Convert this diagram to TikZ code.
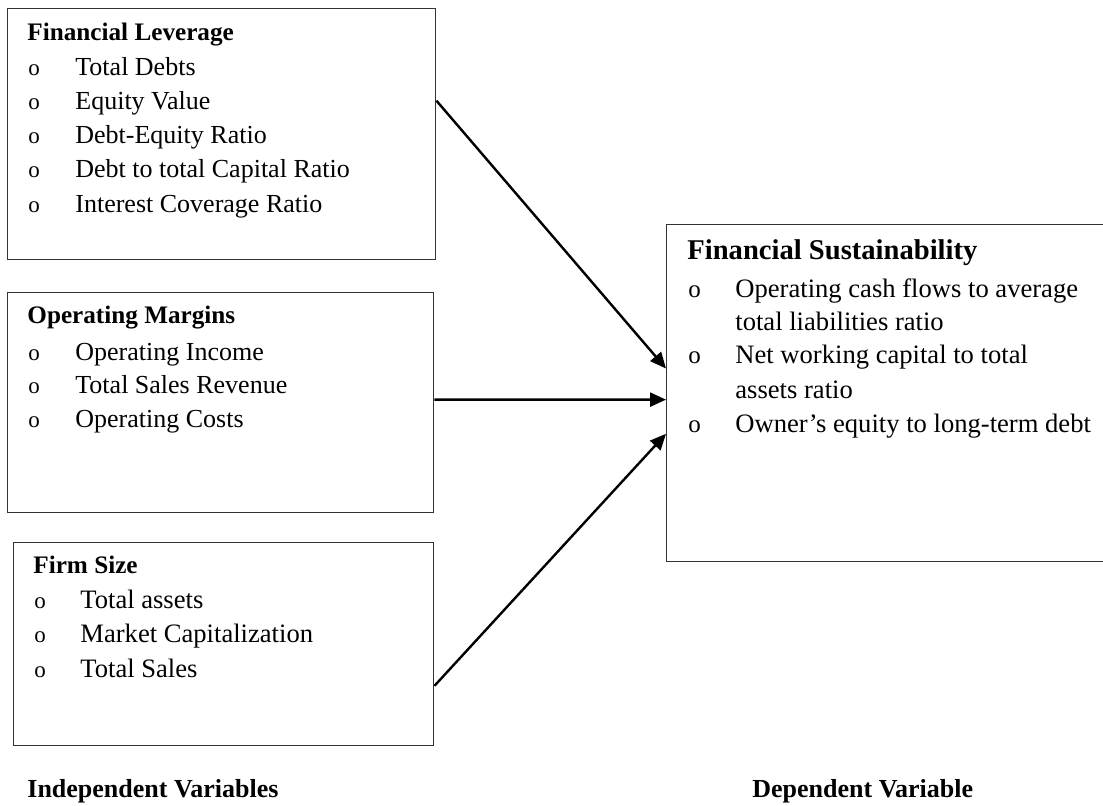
\documentclass[tikz,border=0pt]{standalone}
\usepackage{fontspec}
\setmainfont{Liberation Serif}
\usetikzlibrary{arrows.meta,calc}
\begin{document}
\begin{tikzpicture}[x=0.5pt,y=-0.5pt,
  box/.style={draw=black!80, line width=0.7pt, rectangle, inner sep=0pt, anchor=north west},
  txt/.style={anchor=base west, inner sep=0pt, font=\fontsize{13}{15}\selectfont},
  fstxt/.style={anchor=base west, inner sep=0pt, font=\fontsize{13.3}{15}\selectfont},
  hd/.style={anchor=base west, inner sep=0pt, font=\fontsize{12.6}{15}\selectfont\bfseries},
  captxt/.style={anchor=base west, inner sep=0pt, font=\fontsize{13}{15}\selectfont\bfseries},
  btxt/.style={anchor=base west, inner sep=0pt, font=\fontsize{13.3}{16}\selectfont},
  bhd/.style={anchor=base west, inner sep=0pt, font=\fontsize{14.3}{16}\selectfont\bfseries},
  bul/.style={anchor=base west, inner sep=0pt, font=\fontsize{11.5}{12}\selectfont},
  bbul/.style={anchor=base west, inner sep=0pt, font=\fontsize{12.5}{12}\selectfont},
  arr/.style={line width=1.2pt, -{Triangle[length=8pt,width=7pt]}}]
\useasboundingbox (0,0) rectangle (1103,805);
\clip (0,0) rectangle (1103,805);

% boxes
\node[box, minimum width=214pt, minimum height=125.5pt] (fl) at (7,8) {};
\node[box, minimum width=213pt, minimum height=110pt] (om) at (7,292) {};
\node[box, minimum width=210pt, minimum height=101.5pt] (fs) at (13,542) {};
\node[box, minimum width=222pt, minimum height=168.5pt] (sus) at (666,224) {};

% Financial Leverage
\node[hd] (flh) at (27,40) {Financial Leverage};
\node[bul] (flb1) at (28,75) {o};
\node[txt] (flt1) at (75,75) {Total Debts};
\node[bul] (flb2) at (28,109) {o};
\node[txt] (flt2) at (75,109) {Equity Value};
\node[bul] (flb3) at (28,143) {o};
\node[txt] (flt3) at (75,143) {Debt-Equity Ratio};
\node[bul] (flb4) at (28,177) {o};
\node[txt] (flt4) at (75,177) {Debt to total Capital Ratio};
\node[bul] (flb5) at (28,212) {o};
\node[txt] (flt5) at (75,212) {Interest Coverage Ratio};

% Operating Margins
\node[hd] (omh) at (27,323) {Operating Margins};
\node[bul] (omb1) at (28,360) {o};
\node[txt] (omt1) at (75,360) {Operating Income};
\node[bul] (omb2) at (28,393) {o};
\node[txt] (omt2) at (75,393) {Total Sales Revenue};
\node[bul] (omb3) at (28,427) {o};
\node[txt] (omt3) at (75,427) {Operating Costs};

% Firm Size
\node[hd] (fsh) at (33,573) {Firm Size};
\node[bul] (fsb1) at (34,608) {o};
\node[fstxt] (fst1) at (80,608) {Total assets};
\node[bul] (fsb2) at (34,642) {o};
\node[fstxt] (fst2) at (80,642) {Market Capitalization};
\node[bul] (fsb3) at (34,677) {o};
\node[fstxt] (fst3) at (80,677) {Total Sales};

% Financial Sustainability
\node[bhd] (sush) at (687,259) {Financial Sustainability};
\node[bbul] (susb1) at (688,297) {o};
\node[btxt] (sust1) at (735,297) {Operating cash flows to average};
\node[btxt] (sust1b) at (735,330) {total liabilities ratio};
\node[bbul] (susb2) at (688,363) {o};
\node[btxt] (sust2) at (735,363) {Net working capital to total};
\node[btxt] (sust2b) at (735,398) {assets ratio};
\node[bbul] (susb3) at (688,432) {o};
\node[btxt] (sust3) at (735,432) {Owner’s equity to long-term debt};

% captions
\node[captxt] (iv) at (27,797) {Independent Variables};
\node[captxt] (dv) at (752,797) {Dependent Variable};

% arrows
\draw[arr] ($(fl.north east)!0.367!(fl.south east)$) -- ($(sus.north west)!0.427!(sus.south west)$);
\draw[arr] ($(om.north east)!0.486!(om.south east)$) -- ($(sus.north west)!0.519!(sus.south west)$);
\draw[arr] ($(fs.north east)!0.704!(fs.south east)$) -- ($(sus.north west)!0.62!(sus.south west)$);
\end{tikzpicture}
\end{document}
